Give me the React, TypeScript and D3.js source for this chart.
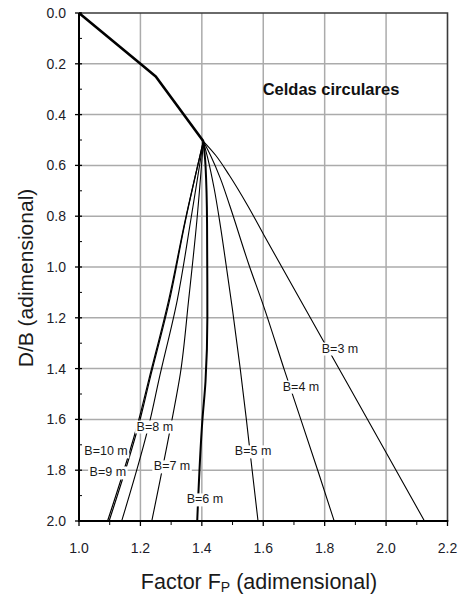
import React, { useEffect, useRef } from 'react';
import * as d3 from 'd3';

// Axis ticks
const xMajor = [1.0, 1.2, 1.4, 1.6, 1.8, 2.0, 2.2];
const xMinor = [1.1, 1.3, 1.5, 1.7, 1.9, 2.1];
const yMajor = [0.0, 0.2, 0.4, 0.6, 0.8, 1.0, 1.2, 1.4, 1.6, 1.8, 2.0];
const yMinor = [0.1, 0.3, 0.5, 0.7, 0.9, 1.1, 1.3, 1.5, 1.7, 1.9];

// Common upper envelope: [Fp, D/B]
const envelope: [number, number][] = [
  [1.0, 0.0], [1.2, 0.2], [1.25, 0.25], [1.405, 0.505],
];

// Branches for each cell width B: [Fp, D/B]
const b3: [number, number][] = [
  [1.405, 0.505], [1.445, 0.56], [1.49, 0.64], [1.55, 0.76], [1.602, 0.874], [1.80, 1.30], [2.0, 1.73], [2.125, 2.0],
];
const b4: [number, number][] = [
  [1.405, 0.505], [1.43, 0.565], [1.46, 0.65], [1.49, 0.755], [1.553, 0.99], [1.60, 1.15], [1.67, 1.41], [1.78, 1.81], [1.831, 2.0],
];
const b5: [number, number][] = [
  [1.405, 0.505], [1.42, 0.575], [1.44, 0.69], [1.46, 0.835], [1.48, 1.0], [1.50, 1.17], [1.525, 1.40], [1.545, 1.60], [1.56, 1.76], [1.583, 2.0],
];
const b6: [number, number][] = [
  [1.405, 0.505], [1.412, 0.6], [1.417, 0.83], [1.418, 1.2], [1.412, 1.45], [1.402, 1.6], [1.385, 2.0],
];
const b7: [number, number][] = [
  [1.405, 0.505], [1.384, 0.815], [1.357, 1.13], [1.33, 1.42], [1.303, 1.60], [1.237, 2.0],
];
const b8: [number, number][] = [
  [1.405, 0.505], [1.386, 0.65], [1.364, 0.815], [1.32, 1.13], [1.26, 1.445], [1.232, 1.60], [1.139, 2.0],
];
const b9: [number, number][] = [
  [1.405, 0.505], [1.347, 0.815], [1.295, 1.13], [1.230, 1.445], [1.199, 1.60], [1.098, 2.0],
];
const b10: [number, number][] = [
  [1.405, 0.505], [1.346, 0.815], [1.292, 1.13], [1.227, 1.445], [1.195, 1.60], [1.093, 2.0],
];

const seriesNames = ['B=3 m', 'B=4 m', 'B=5 m', 'B=6 m', 'B=7 m', 'B=8 m', 'B=9 m', 'B=10 m'];
const seriesData = [b3, b4, b5, b6, b7, b8, b9, b10];
const seriesWidth = [1.1, 1.1, 1.1, 2.0, 1.1, 1.1, 1.2, 1.2];

// Label anchors in data units [Fp, D/B]
const labelAt: [number, number][] = [
  [1.850, 1.319], [1.723, 1.469], [1.567, 1.724], [1.410, 1.913],
  [1.303, 1.783], [1.247, 1.626], [1.094, 1.807], [1.088, 1.724],
];

const W = 461;
const H = 600;
const FONT = "'Liberation Sans', Arial, Helvetica, sans-serif";

export default function App() {
  const ref = useRef<SVGSVGElement>(null);

  useEffect(() => {
    const svg = d3.select(ref.current);
    svg.selectAll('*').remove();

    const x = d3.scaleLinear().domain([1.0, 2.2]).range([79, 447.5]);
    const y = d3.scaleLinear().domain([0, 2.0]).range([13, 521]);
    const [x0, x1] = x.range();
    const [y0, y1] = y.range();

    // grid
    const grid = svg.append('g').attr('stroke', '#ababab').attr('stroke-width', 1.5);
    grid.selectAll('line.v').data(xMajor.slice(1, -1)).join('line')
      .attr('x1', (d) => x(d)).attr('x2', (d) => x(d)).attr('y1', y0).attr('y2', y1);
    grid.selectAll('line.h').data(yMajor.slice(1, -1)).join('line')
      .attr('y1', (d) => y(d)).attr('y2', (d) => y(d)).attr('x1', x0).attr('x2', x1);

    // frame top/right
    svg.append('path')
      .attr('d', `M${x0},${y0}H${x1}V${y1}`)
      .attr('fill', 'none').attr('stroke', '#3a3a3a').attr('stroke-width', 1.6);

    // curves
    const line = d3.line<[number, number]>()
      .x((d) => x(d[0])).y((d) => y(d[1]))
      .curve(d3.curveMonotoneY);
    const curves = svg.append('g').attr('fill', 'none').attr('stroke', '#000');
    seriesData.forEach((pts, i) => {
      curves.append('path').attr('d', line(pts)).attr('stroke-width', seriesWidth[i]);
    });
    curves.append('path').attr('d', d3.line<[number, number]>().x((d) => x(d[0])).y((d) => y(d[1]))(envelope))
      .attr('stroke-width', 2.6).attr('stroke-linejoin', 'round');

    // axes
    const ax = svg.append('g').attr('stroke', '#000');
    ax.append('line').attr('x1', x0).attr('x2', x0).attr('y1', y0).attr('y2', y1 + 1).attr('stroke-width', 2);
    ax.append('line').attr('x1', x0 - 1).attr('x2', x1 + 0.8).attr('y1', y1).attr('y2', y1).attr('stroke-width', 2);
    ax.selectAll('line.xt').data(xMajor).join('line')
      .attr('x1', (d) => x(d)).attr('x2', (d) => x(d)).attr('y1', y1).attr('y2', y1 + 5).attr('stroke-width', 1.3);
    ax.selectAll('line.xm').data(xMinor).join('line')
      .attr('x1', (d) => x(d)).attr('x2', (d) => x(d)).attr('y1', y1).attr('y2', y1 + 4).attr('stroke-width', 1);
    ax.selectAll('line.yt').data(yMajor).join('line')
      .attr('y1', (d) => y(d)).attr('y2', (d) => y(d)).attr('x1', x0 - 4).attr('x2', x0 + 3).attr('stroke-width', 1.3);
    ax.selectAll('line.ym').data(yMinor).join('line')
      .attr('y1', (d) => y(d)).attr('y2', (d) => y(d)).attr('x1', x0).attr('x2', x0 + 3).attr('stroke-width', 1);

    const fmt = d3.format('.1f');
    const tl = svg.append('g').attr('font-family', FONT).attr('font-size', 14).attr('fill', '#1c1c2a');
    tl.selectAll('text.x').data(xMajor).join('text')
      .attr('x', (d) => x(d)).attr('y', 553).attr('text-anchor', 'middle').text((d) => fmt(d));
    tl.selectAll('text.y').data(yMajor).join('text')
      .attr('x', 66).attr('y', (d) => y(d) + 5).attr('text-anchor', 'end').text((d) => fmt(d));

    // branch labels with white backing
    const lg = svg.append('g');
    seriesNames.forEach((name, i) => {
      const [lx, ly] = labelAt[i];
      const grp = lg.append('g');
      const rect = grp.append('rect').attr('fill', '#fff');
      const t = grp.append('text')
        .attr('x', x(lx)).attr('y', y(ly) + 4.5)
        .attr('text-anchor', 'middle')
        .attr('font-family', FONT).attr('font-size', 12.5).attr('fill', '#1a1a1a')
        .text(name);
      const bb = (t.node() as SVGTextElement).getBBox();
      rect.attr('x', bb.x - 1.5).attr('y', bb.y + 1).attr('width', bb.width + 3).attr('height', bb.height - 1);
    });

    // title inside plot
    svg.append('text')
      .attr('x', 331).attr('y', 95).attr('text-anchor', 'middle')
      .attr('font-family', FONT).attr('font-size', 16.5).attr('font-weight', 'bold').attr('fill', '#111')
      .text('Celdas circulares');

    // axis titles
    const xt = svg.append('text')
      .attr('x', 259).attr('y', 589).attr('text-anchor', 'middle')
      .attr('font-family', FONT).attr('font-size', 21.5).attr('fill', '#1a1a1a');
    xt.append('tspan').text('Factor F');
    xt.append('tspan').attr('font-size', 14).attr('dy', 3).text('P');
    xt.append('tspan').attr('dy', -3).text(' (adimensional)');

    svg.append('text')
      .attr('transform', 'translate(33,278) rotate(-90)')
      .attr('text-anchor', 'middle')
      .attr('font-family', FONT).attr('font-size', 21).attr('fill', '#1a1a1a')
      .text('D/B (adimensional)');
  }, []);

  return (
    <svg
      ref={ref}
      width={W}
      height={H}
      viewBox={`0 0 ${W} ${H}`}
      style={{ position: 'absolute', left: 0, top: 0, background: '#fff' }}
    />
  );
}
